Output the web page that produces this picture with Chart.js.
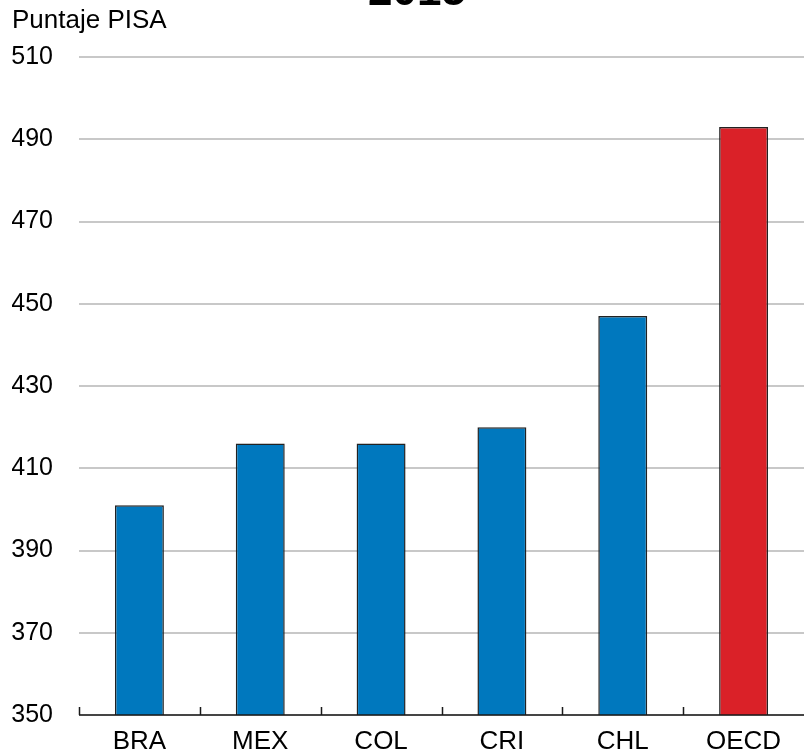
<!DOCTYPE html>
<html>
<head>
<meta charset="utf-8">
<script src="https://cdn.jsdelivr.net/npm/chart.js@4/dist/chart.umd.min.js"></script>
<style>
  html, body { margin: 0; padding: 0; background: #fff; }
  #wrap { position: relative; width: 804px; height: 751px; overflow: hidden; }
</style>
</head>
<body>
<div id="wrap"><canvas id="chart" width="804" height="751"></canvas></div>
<script>
const categories = ['BRA', 'MEX', 'COL', 'CRI', 'CHL', 'OECD'];
const scores = [401, 416, 416, 420, 447, 493];
const barColors = ['#0078be', '#0078be', '#0078be', '#0078be', '#0078be', '#da2128'];
const yMin = 350;
const yMax = 510;
const yStep = 20;
const titleText = '2015';
const unitText = 'Puntaje PISA';

const FONT = '"Liberation Sans", Arial, sans-serif';

// axis line with small upward ticks between categories, plus title and unit label
const extras = {
  id: 'extras',
  afterDatasetsDraw(chart) {
    const { ctx, chartArea, scales } = chart;
    const x = scales.x;
    const half = (x.getPixelForValue(1) - x.getPixelForValue(0)) / 2;
    ctx.save();
    ctx.strokeStyle = '#1a1a1a';
    ctx.lineWidth = 1.5;
    ctx.beginPath();
    ctx.moveTo(chartArea.left, chartArea.bottom);
    ctx.lineTo(chartArea.right, chartArea.bottom);
    for (let i = 0; i < categories.length; i++) {
      const px = Math.round(x.getPixelForValue(i) - half) + 0.5;
      ctx.moveTo(px, chartArea.bottom);
      ctx.lineTo(px, chartArea.bottom - 8);
    }
    ctx.stroke();
    ctx.restore();
  },
  afterDraw(chart) {
    const { ctx } = chart;
    ctx.save();
    ctx.fillStyle = '#000';
    ctx.textBaseline = 'alphabetic';
    ctx.textAlign = 'center';
    ctx.font = 'bold 44px ' + FONT;
    ctx.fillText(titleText, 417, 5);
    ctx.textAlign = 'left';
    ctx.font = '26px ' + FONT;
    ctx.fillText(unitText, 12, 28);
    ctx.restore();
  }
};

new Chart(document.getElementById('chart'), {
  type: 'bar',
  data: {
    labels: categories,
    datasets: [{
      data: scores,
      backgroundColor: barColors,
      borderColor: '#222',
      borderWidth: 1.5,
      categoryPercentage: 1,
      barPercentage: 0.405
    }]
  },
  options: {
    responsive: false,
    animation: false,
    layout: { padding: { top: 57, left: 12, right: 0, bottom: 0 } },
    plugins: {
      legend: { display: false },
      tooltip: { enabled: false }
    },
    scales: {
      x: {
        grid: { display: false },
        border: { display: false },
        ticks: { color: '#000', font: { family: FONT, size: 26 }, padding: 3 },
        afterFit(scale) { scale.height = 36; }
      },
      y: {
        min: yMin,
        max: yMax,
        border: { display: false },
        grid: { color: '#c8c8c8', lineWidth: 2, drawTicks: false },
        ticks: {
          stepSize: yStep,
          color: '#000',
          padding: 26,
          font: { family: FONT, size: 25 }
        },
        afterFit(scale) {
          scale.width = 67;
          scale.paddingTop = 0;
          scale.paddingBottom = 0;
        }
      }
    }
  },
  plugins: [extras]
});
</script>
</body>
</html>
